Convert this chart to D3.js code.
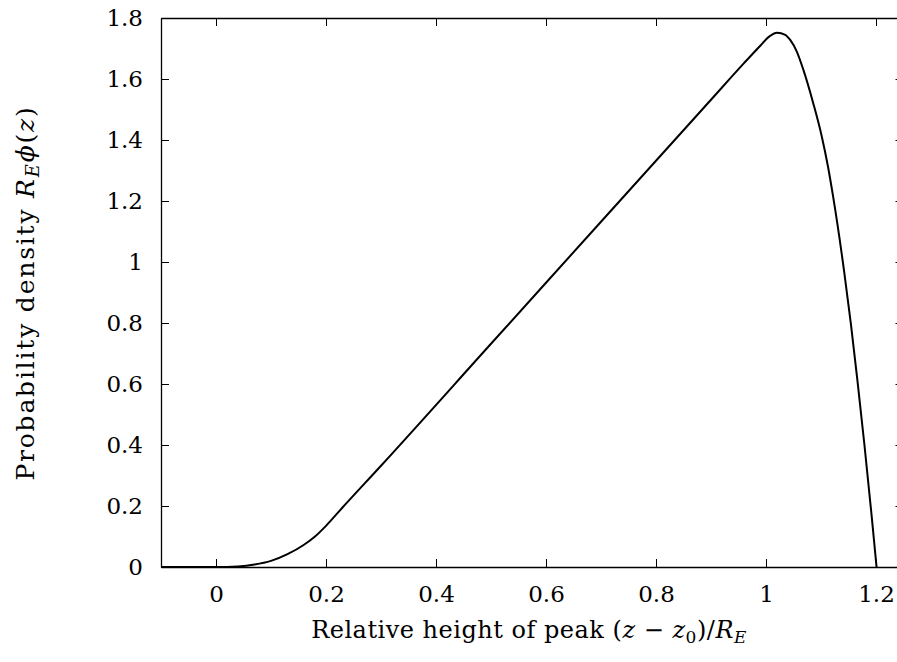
<!DOCTYPE html>
<html>
<head>
<meta charset="utf-8">
<script src="https://cdn.jsdelivr.net/npm/d3@7"></script>
<style>
  html, body { margin: 0; padding: 0; background: #fff; overflow: hidden; }
  svg { display: block; }
  text { font-family: "DejaVu Serif", "Liberation Serif", serif; fill: #000; }
</style>
</head>
<body>
<svg id="chart" width="897" height="662"></svg>
<script>
// Data
const xValues = [-0.1, 0, 0.04, 0.07, 0.1, 0.13, 0.16, 0.18, 0.2, 0.23, 0.3, 0.5, 0.7, 0.9, 0.96, 0.99, 1.005, 1.02, 1.035, 1.044, 1.056, 1.068, 1.086, 1.101, 1.113, 1.122, 1.142, 1.1545, 1.166, 1.179, 1.192, 1.201];
const yValues = [0, 0, 0.002, 0.008, 0.02, 0.042, 0.073, 0.1, 0.135, 0.195, 0.332, 0.732, 1.132, 1.532, 1.652, 1.71, 1.738, 1.752, 1.745, 1.728, 1.69, 1.63, 1.52, 1.415, 1.31, 1.215, 0.97, 0.795, 0.615, 0.40, 0.169, 0];
const xTicks = [0, 0.2, 0.4, 0.6, 0.8, 1, 1.2];
const yTicks = [0, 0.2, 0.4, 0.6, 0.8, 1, 1.2, 1.4, 1.6, 1.8];
const xDomain = [-0.1, 1.25];
const yDomain = [0, 1.8];

const svg = d3.select("#chart");
const pLeft = 161, pRight = 903.5, pTop = 18, pBottom = 567;
const FONT = "'DejaVu Serif', 'Liberation Serif', serif";

const x = d3.scaleLinear().domain(xDomain).range([pLeft, pRight]);
const y = d3.scaleLinear().domain(yDomain).range([pBottom, pTop]);
const fmt = d => String(d);

function styleAxis(g) {
  g.select(".domain").attr("stroke", "#000").attr("stroke-width", 1.3);
  g.selectAll(".tick line").attr("stroke", "#000").attr("stroke-width", 1);
  g.selectAll(".tick text").attr("font-size", 23).attr("font-family", FONT);
}

// Bottom axis
svg.append("g").attr("transform", `translate(0,${pBottom})`)
  .call(d3.axisBottom(x).tickValues(xTicks).tickFormat(fmt).tickSize(-8).tickSizeOuter(0).tickPadding(19))
  .call(styleAxis);
// Top axis
svg.append("g").attr("transform", `translate(0,${pTop})`)
  .call(d3.axisTop(x).tickValues(xTicks).tickFormat("").tickSize(-8).tickSizeOuter(0))
  .call(styleAxis);
// Left axis
svg.append("g").attr("transform", `translate(${pLeft},0)`)
  .call(d3.axisLeft(y).tickValues(yTicks).tickFormat(fmt).tickSize(-8).tickSizeOuter(0).tickPadding(18))
  .call(styleAxis);
// Right axis
svg.append("g").attr("transform", `translate(${pRight},0)`)
  .call(d3.axisRight(y).tickValues(yTicks).tickFormat("").tickSize(-8).tickSizeOuter(0))
  .call(styleAxis);

// Curve
const pts = xValues.map((v, i) => [v, yValues[i]]);
const line = d3.line().x(d => x(d[0])).y(d => y(d[1])).curve(d3.curveMonotoneX);
svg.append("path").datum(pts)
  .attr("d", line)
  .attr("fill", "none")
  .attr("stroke", "#000")
  .attr("stroke-width", 2)
  .attr("stroke-linejoin", "round");

// X axis title
const xt = svg.append("text")
  .attr("x", 529)
  .attr("y", 638)
  .attr("text-anchor", "middle")
  .attr("font-size", 24)
  .attr("letter-spacing", 0.5);
xt.append("tspan").text("Relative height of peak (");
xt.append("tspan").attr("font-style", "italic").text("z");
xt.append("tspan").text(" \u2212 ");
xt.append("tspan").attr("font-style", "italic").text("z");
xt.append("tspan").attr("font-size", 17).attr("dy", 5).text("0");
xt.append("tspan").attr("dy", -5).text(")/");
xt.append("tspan").attr("font-style", "italic").text("R");
xt.append("tspan").attr("font-size", 17).attr("font-style", "italic").attr("dy", 5).text("E");

// Y axis title
const yt = svg.append("text")
  .attr("transform", `translate(34,293) rotate(-90)`)
  .attr("text-anchor", "middle")
  .attr("font-size", 25)
  .attr("letter-spacing", 1.8);
yt.append("tspan").text("Probability density ");
yt.append("tspan").attr("font-style", "italic").text("R");
yt.append("tspan").attr("font-size", 18).attr("font-style", "italic").attr("dy", 5).text("E");
yt.append("tspan").attr("font-style", "italic").attr("dy", -5).text("\u03D5");
yt.append("tspan").text("(");
yt.append("tspan").attr("font-style", "italic").text("z");
yt.append("tspan").text(")");
</script>
</body>
</html>
